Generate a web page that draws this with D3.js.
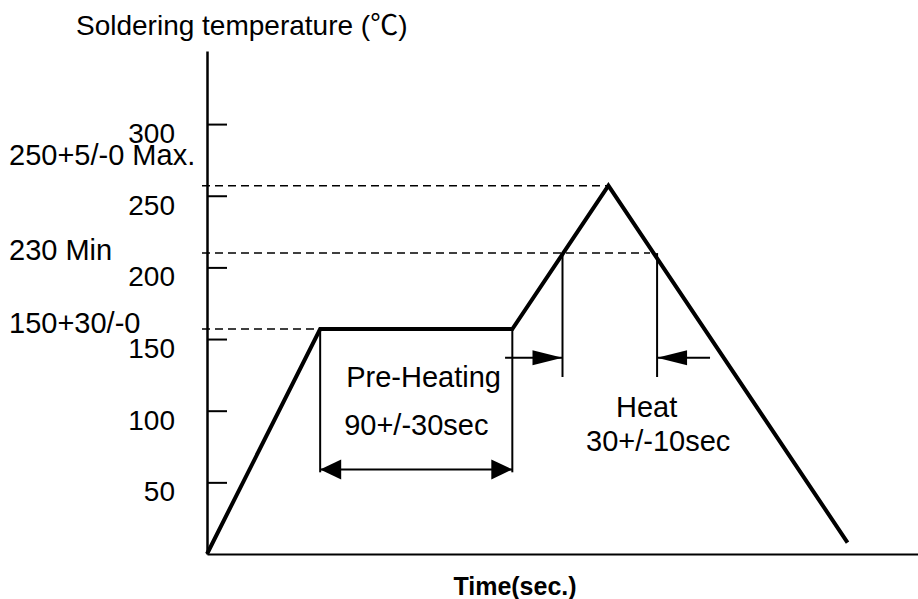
<!DOCTYPE html>
<html>
<head>
<meta charset="utf-8">
<script src="https://cdn.jsdelivr.net/npm/d3@7"></script>
<style>
body { margin: 0; background: #fff; }
text { font-family: "Liberation Sans", Arial, "Noto Sans CJK JP", sans-serif; fill: #000; }
</style>
</head>
<body>
<svg id="chart"></svg>
<script>
// reflow profile: time (sec) and temperature (deg C)
var profileTime = [0, 53, 143, 188, 300];
var profileTemp = [0, 157, 157, 257, 8];

var tempTicks = [50, 100, 150, 200, 250, 300];

// dashed guide levels, where each one stops (sec), and their labels
var guideTemp = [257, 210, 157];
var guideEnd = [188, 207.5, 53];
var guideLabels = ["250+5/-0 Max.", "230 Min", "150+30/-0"];

// pre-heating window
var preHeat = [53, 143];
var preHeatArrowTemp = 59;
var preHeatLineBottom = 57;

// heat window above 230
var heatWindow = [166.5, 210.8];
var heatArrowTail = [139.6, 235.6];
var heatArrowTemp = 137;
var heatLineBottom = 123.5;

var margin = {top: 51, right: 0, bottom: 45, left: 207},
    width = 918 - margin.left - margin.right,
    height = 599 - margin.top - margin.bottom;

var svg = d3.select("#chart")
    .attr("width", 918)
    .attr("height", 599)
    .append("g")
    .attr("transform", "translate(" + margin.left + "," + margin.top + ")");

var x = d3.scaleLinear().domain([0, 333]).range([0, width]);
var y = d3.scaleLinear().domain([0, 351]).range([height, 0]);

// title
svg.append("text")
    .attr("x", -131)
    .attr("y", -16)
    .style("font-size", "28px")
    .text("Soldering temperature (\u2103)");

// y axis, ticks pointing inwards
var yAxis = svg.append("g")
    .call(d3.axisLeft(y).tickValues(tempTicks).tickSize(-20).tickSizeOuter(0).tickPadding(32));
yAxis.select(".domain").attr("stroke", "#000").attr("stroke-width", 2.5);
yAxis.selectAll(".tick line").attr("stroke", "#000").attr("stroke-width", 2);
yAxis.selectAll(".tick text")
    .attr("dy", "0.66em")
    .style("font-size", "28px")
    .style("font-family", "'Liberation Sans', Arial, sans-serif")
    .attr("fill", "#000");

// x axis, no ticks
var xAxis = svg.append("g")
    .attr("transform", "translate(0," + height + ")")
    .call(d3.axisBottom(x).tickValues([]).tickSizeOuter(0));
xAxis.select(".domain").attr("stroke", "#000").attr("stroke-width", 2);

svg.append("text")
    .attr("x", 308)
    .attr("y", 544)
    .attr("text-anchor", "middle")
    .style("font-size", "25px")
    .style("font-weight", "bold")
    .text("Time(sec.)");

// dashed guides
guideTemp.forEach(function(t, i) {
    svg.append("line")
        .attr("x1", x(0) - 5)
        .attr("x2", x(guideEnd[i]))
        .attr("y1", y(t))
        .attr("y2", y(t))
        .attr("stroke", "#000")
        .attr("stroke-width", 1.6)
        .attr("stroke-dasharray", "8,5");
});

var guideDy = [-20.5, 7, 4];
guideLabels.forEach(function(l, i) {
    svg.append("text")
        .attr("x", -198)
        .attr("y", y(guideTemp[i]) + guideDy[i])
        .style("font-size", "29px")
        .text(l);
});

// the profile
var profile = profileTime.map(function(t, i) {
    return {time: t, temp: profileTemp[i]};
});
var valueline = d3.line()
    .x(function(d) { return x(d.time); })
    .y(function(d) { return y(d.temp); });

svg.append("path")
    .datum(profile)
    .attr("d", valueline)
    .attr("fill", "none")
    .attr("stroke", "#000")
    .attr("stroke-width", 4)
    .attr("stroke-linejoin", "miter");

function vline(t, top, bottom) {
    svg.append("line")
        .attr("x1", x(t)).attr("x2", x(t))
        .attr("y1", y(top)).attr("y2", y(bottom))
        .attr("stroke", "#000")
        .attr("stroke-width", 2);
}

function hline(t1, t2, temp) {
    svg.append("line")
        .attr("x1", x(t1)).attr("x2", x(t2))
        .attr("y1", y(temp)).attr("y2", y(temp))
        .attr("stroke", "#000")
        .attr("stroke-width", 2);
}

// filled arrow head, dir = 1 points right, -1 points left
function arrowHead(t, temp, dir, len, half) {
    var tx = x(t), ty = y(temp);
    svg.append("path")
        .attr("d", "M" + tx + "," + ty +
            "L" + (tx - dir * len) + "," + (ty - half) +
            "L" + (tx - dir * len) + "," + (ty + half) + "Z")
        .attr("fill", "#000");
}

// pre-heating window
vline(preHeat[0], profileTemp[1], preHeatLineBottom);
vline(preHeat[1], profileTemp[2], preHeatLineBottom);
hline(preHeat[0], preHeat[1], preHeatArrowTemp);
arrowHead(preHeat[0], preHeatArrowTemp, -1, 21, 10);
arrowHead(preHeat[1], preHeatArrowTemp, 1, 21, 10);

svg.append("text")
    .attr("x", x(preHeat[0]) + 26)
    .attr("y", 336)
    .style("font-size", "29px")
    .text("Pre-Heating");
svg.append("text")
    .attr("x", x(preHeat[0]) + 24)
    .attr("y", 384)
    .style("font-size", "29px")
    .text("90+/-30sec");

// heat window
vline(heatWindow[0], guideTemp[1], heatLineBottom);
vline(heatWindow[1], guideTemp[1], heatLineBottom);
hline(heatArrowTail[0], heatWindow[0], heatArrowTemp);
hline(heatWindow[1], heatArrowTail[1], heatArrowTemp);
arrowHead(heatWindow[0], heatArrowTemp, 1, 30, 7.5);
arrowHead(heatWindow[1], heatArrowTemp, -1, 30, 7.5);

svg.append("text")
    .attr("x", 409)
    .attr("y", 366)
    .style("font-size", "29px")
    .text("Heat");
svg.append("text")
    .attr("x", 379)
    .attr("y", 400)
    .style("font-size", "29px")
    .text("30+/-10sec");
</script>
</body>
</html>
